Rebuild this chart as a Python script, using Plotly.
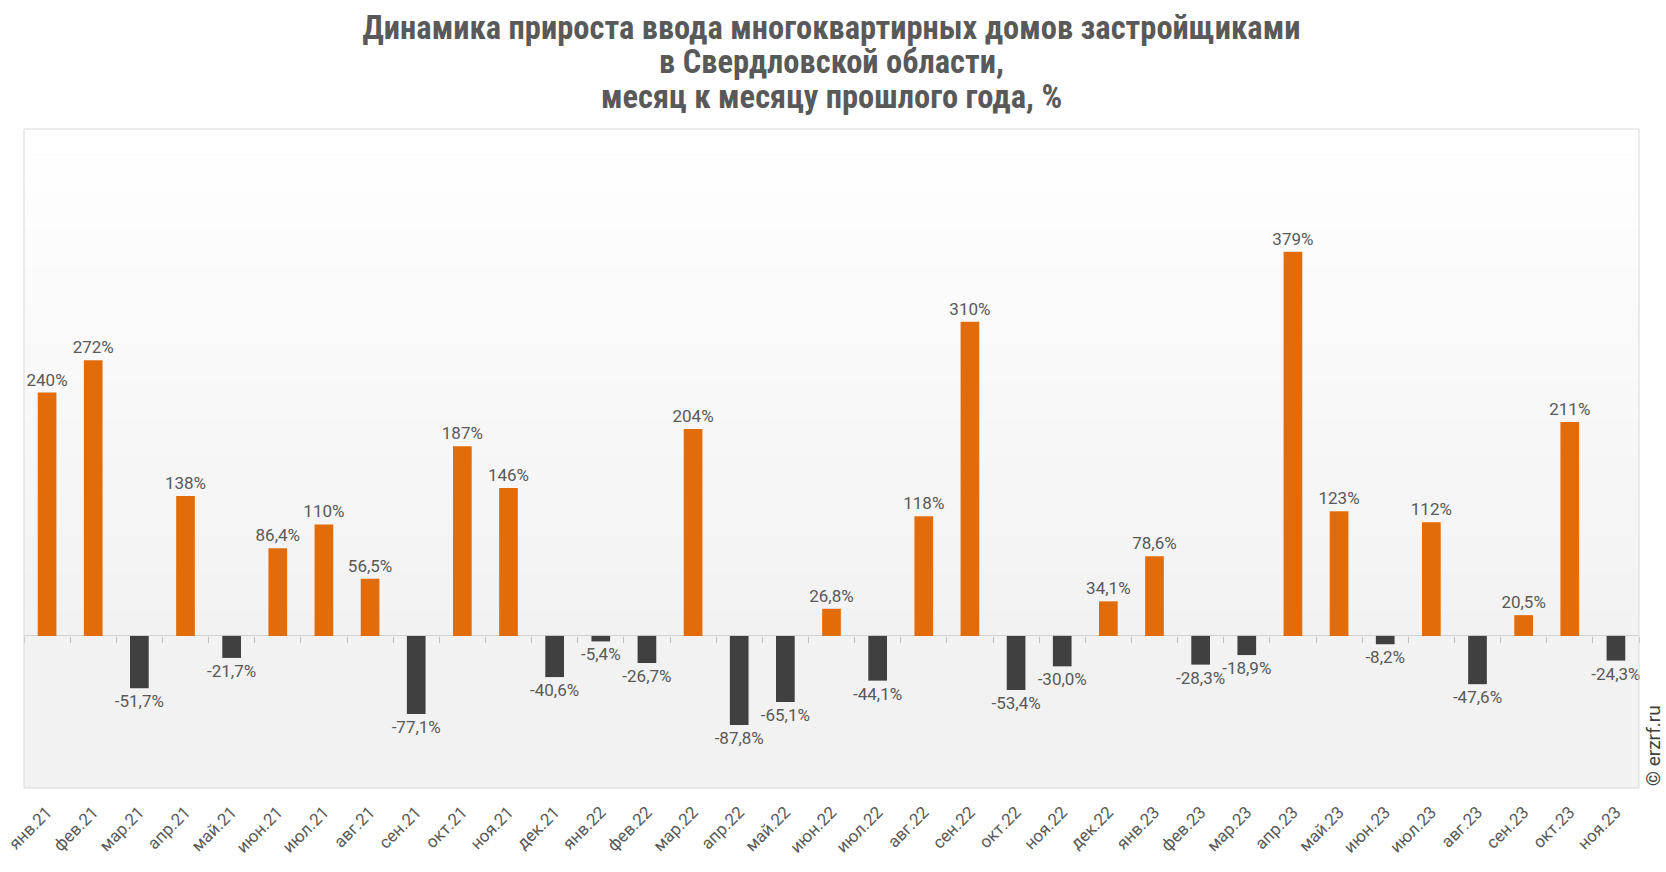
import plotly.graph_objects as go

months = ["янв.21", "фев.21", "мар.21", "апр.21", "май.21", "июн.21", "июл.21", "авг.21", "сен.21", "окт.21", "ноя.21", "дек.21",
          "янв.22", "фев.22", "мар.22", "апр.22", "май.22", "июн.22", "июл.22", "авг.22", "сен.22", "окт.22", "ноя.22", "дек.22",
          "янв.23", "фев.23", "мар.23", "апр.23", "май.23", "июн.23", "июл.23", "авг.23", "сен.23", "окт.23", "ноя.23"]
growth = [240, 272, -51.7, 138, -21.7, 86.4, 110, 56.5, -77.1, 187, 146, -40.6,
          -5.4, -26.7, 204, -87.8, -65.1, 26.8, -44.1, 118, 310, -53.4, -30.0, 34.1,
          78.6, -28.3, -18.9, 379, 123, -8.2, 112, -47.6, 20.5, 211, -24.3]
title_lines = ["Динамика прироста ввода многоквартирных домов застройщиками",
               "в Свердловской области,",
               "месяц к месяцу прошлого года, %"]

Y_MIN, Y_MAX = -150, 500
ORANGE = "#E36C0A"
DARK = "#404040"
TEXT = "#595959"
W, H = 1666, 872
ML, MR, MT, MB = 24, 27, 129, 84
TITLE_FONT = dict(family="Liberation Sans Narrow, Roboto Condensed, Roboto", size=32.5, color="#595959", weight="bold")


def fmt(v):
    if abs(v) >= 100:
        return f"{v:.0f}%"
    return f"{v:.1f}%".replace(".", ",")


labels = [fmt(v) for v in growth]
colors = [ORANGE if v >= 0 else DARK for v in growth]

fig = go.Figure()
fig.add_trace(go.Bar(
    x=months, y=growth, marker=dict(color=colors, line=dict(width=0)),
    text=labels, textposition="outside", cliponaxis=False, constraintext="none",
    textfont=dict(family="Roboto", size=17, color=TEXT),
    hoverinfo="x+y", showlegend=False,
))
# tick marks on zero line (category boundaries)
fig.add_trace(go.Scatter(x=months, y=[None] * len(months), xaxis="x2", mode="markers",
                         showlegend=False, hoverinfo="skip"))

zero_frac = (0 - Y_MIN) / (Y_MAX - Y_MIN)

shapes = []
n = 40
for i in range(n):
    y0 = zero_frac + (1 - zero_frac) * i / n
    y1 = zero_frac + (1 - zero_frac) * (i + 1) / n
    t = (i + 0.5) / n  # 0 near zero, 1 at top
    c = int(round(242 + (255 - 242) * t))
    shapes.append(dict(type="rect", xref="paper", yref="paper", x0=0, x1=1, y0=y0, y1=y1,
                       fillcolor=f"rgb({c},{c},{c})", line=dict(width=0), layer="below"))
shapes.append(dict(type="rect", xref="paper", yref="paper", x0=0, x1=1, y0=0, y1=1,
                   line=dict(color="#D9D9D9", width=1), fillcolor="rgba(0,0,0,0)", layer="above"))

plot_h = H - MT - MB
def paper_y(px_from_top):
    return (H - MB - px_from_top) / plot_h

annotations = [dict(text="© erzrf.ru", xref="paper", yref="paper", x=1.0, y=0.0,
                    xanchor="left", yanchor="bottom", xshift=1, textangle=-90, showarrow=False,
                    font=dict(family="Roboto", size=19, color="#404040"))]
for line, ypx in zip(title_lines[1:], [62, 97]):
    annotations.append(dict(text=line, xref="paper", yref="paper", x=0.5, y=paper_y(ypx),
                            xanchor="center", yanchor="middle", showarrow=False, font=TITLE_FONT))

fig.update_layout(
    width=W, height=H,
    margin=dict(l=ML, r=MR, t=MT, b=MB, autoexpand=False),
    paper_bgcolor="white", plot_bgcolor="#F2F2F2",
    bargap=0.595,
    title=dict(
        text=title_lines[0],
        x=0.5, xanchor="center", xref="paper", yref="container", y=1 - 28 / H, yanchor="middle",
        font=TITLE_FONT,
    ),
    font=dict(family="Roboto", color=TEXT),
    xaxis=dict(type="category", categoryorder="array", categoryarray=months, automargin=False,
               range=[-0.5, len(months) - 0.5], tickangle=-45, showgrid=False, showline=False,
               ticks="", ticklabelstandoff=10, tickfont=dict(family="Roboto", size=17, color=TEXT)),
    xaxis2=dict(type="category", categoryorder="array", categoryarray=months, overlaying="x",
                anchor="free", position=zero_frac, range=[-0.5, len(months) - 0.5],
                ticks="outside", tickson="boundaries", ticklen=6, tickcolor="#BFBFBF",
                showticklabels=False, showgrid=False, showline=False, side="bottom", automargin=False),
    yaxis=dict(range=[Y_MIN, Y_MAX], showgrid=False, showticklabels=False, zeroline=True,
               zerolinecolor="#D0D0D0", zerolinewidth=1, automargin=False),
    shapes=shapes,
    annotations=annotations,
)

fig.write_html("out.html", config={"displayModeBar": False},
               post_script="document.body.style.margin='0';document.body.style.overflow='hidden';")
